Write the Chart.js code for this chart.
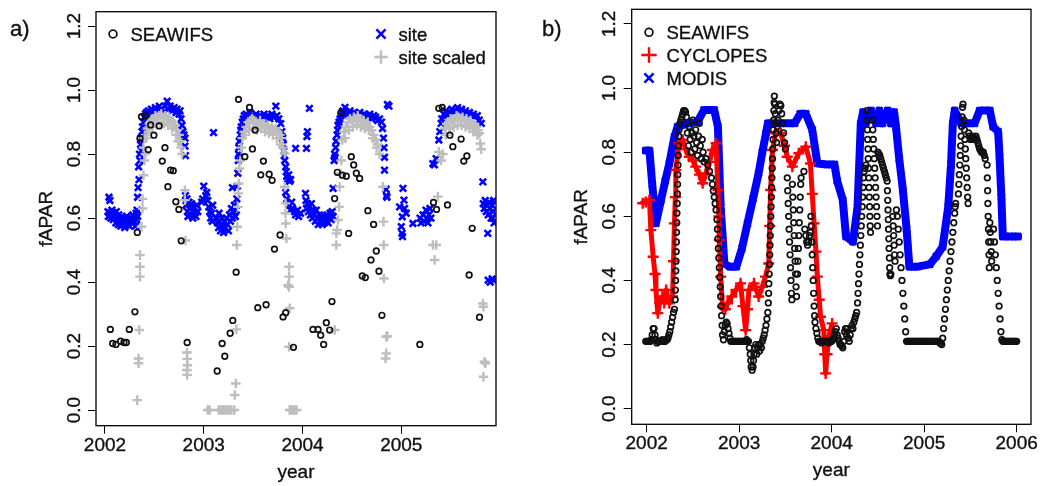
<!DOCTYPE html>
<html>
<head>
<meta charset="utf-8">
<script src="https://cdn.jsdelivr.net/npm/chart.js@4.4.0/dist/chart.umd.min.js"></script>
<style>
  body { margin: 0; background: #fff; width: 1041px; height: 486px; overflow: hidden; position: relative; }
  canvas { position: absolute; top: 0; }
  #chartA { left: 0; }
  #chartB { left: 520px; }
</style>
</head>
<body>
<canvas id="chartA" width="520" height="486"></canvas>
<canvas id="chartB" width="521" height="486"></canvas>
<script>
// axis ticks
const yTicks = [0, 0.2, 0.4, 0.6, 0.8, 1.0, 1.2];
const yTickLabels = ["0.0", "0.2", "0.4", "0.6", "0.8", "1.0", "1.2"];
const xTicksA = [2002, 2003, 2004, 2005];
const xTicksB = [2002, 2003, 2004, 2005, 2006];

// panel a) : [year, fAPAR]
const seawifsA = [
  [2002.054,0.252],[2002.078,0.208],[2002.111,0.205],[2002.158,0.215],[2002.192,0.211],[2002.216,0.211],
  [2002.246,0.252],[2002.303,0.307],[2002.327,0.555],[2002.354,0.849],[2002.37,0.917],[2002.411,0.919],
  [2002.438,0.814],[2002.462,0.891],[2002.495,0.859],[2002.549,0.888],[2002.580,0.778],[2002.607,0.820],
  [2002.637,0.698],[2002.664,0.750],[2002.691,0.748],[2002.718,0.651],[2002.748,0.627],[2002.772,0.529],
  [2002.832,0.211],[2003.136,0.122],[2003.186,0.208],[2003.213,0.168],[2003.267,0.240],[2003.294,0.280],
  [2003.328,0.431],[2003.352,0.971],[2003.416,0.792],[2003.463,0.946],[2003.493,0.816],[2003.520,0.875],
  [2003.547,0.320],[2003.577,0.735],[2003.604,0.778],[2003.631,0.329],[2003.662,0.737],[2003.692,0.718],
  [2003.716,0.503],[2003.773,0.547],[2003.803,0.291],[2003.830,0.304],[2003.908,0.196],[2004.106,0.252],
  [2004.157,0.252],[2004.184,0.234],[2004.214,0.205],[2004.241,0.273],[2004.275,0.250],[2004.298,0.339],
  [2004.325,0.661],[2004.352,0.743],[2004.389,0.929],[2004.403,0.734],[2004.443,0.731],[2004.467,0.552],
  [2004.494,0.792],[2004.518,0.766],[2004.545,0.740],[2004.578,0.724],[2004.605,0.419],[2004.636,0.414],
  [2004.662,0.623],[2004.693,0.469],[2004.720,0.580],[2004.747,0.497],[2004.774,0.434],[2004.804,0.296],
  [2005.188,0.205],[2005.326,0.649],[2005.357,0.627],[2005.380,0.943],[2005.414,0.946],[2005.468,0.641],
  [2005.492,0.859],[2005.522,0.823],[2005.606,0.847],[2005.633,0.778],[2005.664,0.794],[2005.687,0.422],
  [2005.718,0.568],[2005.792,0.290]
];

const siteA = [
  [2002.03,0.62],[2002.035,0.605],[2002.04,0.665],[2002.05,0.655],[2002.05,0.615],[2002.06,0.6],[2002.07,0.625],
  [2002.08,0.61],[2002.085,0.595],[2002.095,0.615],[2002.10,0.60],[2002.11,0.585],[2002.115,0.62],[2002.125,0.6],
  [2002.135,0.58],[2002.14,0.61],[2002.15,0.595],[2002.16,0.575],[2002.17,0.605],[2002.18,0.585],[2002.19,0.6],
  [2002.20,0.57],[2002.21,0.59],[2002.22,0.605],[2002.23,0.58],[2002.24,0.595],[2002.25,0.575],[2002.26,0.6],
  [2002.27,0.585],[2002.28,0.61],[2002.29,0.59],[2002.30,0.6],[2002.31,0.575],[2002.315,0.615],[2002.32,0.595],
  [2002.325,0.625],[2002.33,0.605],
  [2002.33,0.665],[2002.335,0.695],[2002.34,0.76],[2002.345,0.72],[2002.35,0.80],[2002.355,0.78],[2002.36,0.83],
  [2002.365,0.85],[2002.37,0.81],[2002.375,0.87],[2002.38,0.885],[2002.39,0.9],[2002.395,0.875],[2002.40,0.915],
  [2002.41,0.925],
  [2002.42,0.93],[2002.44,0.935],[2002.45,0.92],[2002.47,0.94],[2002.49,0.93],[2002.51,0.945],[2002.53,0.935],
  [2002.55,0.95],[2002.57,0.94],[2002.59,0.93],[2002.61,0.95],[2002.63,0.965],[2002.64,0.94],[2002.66,0.95],
  [2002.68,0.935],[2002.70,0.945],[2002.72,0.93],[2002.73,0.94],[2002.75,0.925],[2002.76,0.935],
  [2002.77,0.91],[2002.78,0.89],[2002.79,0.87],[2002.80,0.86],[2002.81,0.85],[2002.81,0.825],[2002.815,0.795],
  [2002.815,0.67],[2002.82,0.64],[2002.83,0.66],[2002.835,0.62],[2002.84,0.605],[2002.85,0.65],[2002.86,0.63],
  [2002.865,0.61],[2002.875,0.645],[2002.885,0.62],[2002.89,0.6],[2002.90,0.635],[2002.91,0.615],[2002.92,0.605],
  [2002.93,0.64],[2002.94,0.62],
  [2002.98,0.65],[2002.99,0.66],[2003.00,0.70],[2003.02,0.67],[2003.03,0.68],[2003.04,0.655],[2003.05,0.635],
  [2003.06,0.62],[2003.07,0.60],[2003.08,0.615],[2003.085,0.59],[2003.09,0.64],[2003.099,0.867],
  [2003.13,0.6],[2003.14,0.585],[2003.15,0.57],[2003.155,0.615],[2003.16,0.59],[2003.17,0.56],[2003.18,0.6],
  [2003.19,0.575],[2003.20,0.555],[2003.21,0.59],[2003.22,0.57],[2003.23,0.6],[2003.24,0.58],[2003.25,0.56],
  [2003.26,0.61],[2003.27,0.59],[2003.28,0.63],[2003.29,0.6],[2003.30,0.62],[2003.31,0.64],[2003.32,0.605],
  [2003.33,0.625],[2003.29,0.695],
  [2003.335,0.66],[2003.34,0.70],[2003.345,0.74],[2003.35,0.78],[2003.352,0.80],[2003.355,0.82],[2003.36,0.84],
  [2003.365,0.79],[2003.37,0.86],[2003.375,0.875],[2003.38,0.885],[2003.39,0.90],[2003.40,0.91],[2003.41,0.92],
  [2003.43,0.925],[2003.45,0.915],[2003.47,0.93],[2003.49,0.92],[2003.51,0.91],[2003.53,0.925],[2003.55,0.915],
  [2003.57,0.92],[2003.59,0.91],[2003.61,0.925],[2003.63,0.915],[2003.65,0.92],[2003.67,0.91],[2003.69,0.925],
  [2003.71,0.915],[2003.73,0.95],[2003.74,0.92],[2003.76,0.91],[2003.78,0.895],[2003.79,0.87],
  [2003.80,0.85],[2003.805,0.83],[2003.81,0.81],[2003.815,0.795],[2003.82,0.78],[2003.83,0.76],[2003.835,0.745],
  [2003.84,0.73],[2003.85,0.72],[2003.86,0.735],[2003.87,0.715],[2003.88,0.72],[2003.83,0.68],[2003.84,0.66],
  [2003.87,0.64],[2003.88,0.625],[2003.89,0.65],[2003.90,0.63],[2003.92,0.62],[2003.93,0.61],[2003.95,0.625],
  [2003.96,0.605],[2003.98,0.615],[2003.93,0.818],[2004.04,0.818],[2004.05,0.87],[2004.045,0.855],[2004.07,0.943],
  [2004.03,0.677],[2004.035,0.655],
  [2004.04,0.63],[2004.05,0.645],[2004.06,0.62],[2004.07,0.635],[2004.08,0.61],[2004.09,0.645],[2004.10,0.60],
  [2004.11,0.625],[2004.12,0.61],[2004.13,0.59],[2004.14,0.625],[2004.15,0.60],[2004.16,0.58],[2004.17,0.61],
  [2004.18,0.59],[2004.19,0.605],[2004.20,0.58],[2004.21,0.60],[2004.22,0.585],[2004.23,0.605],[2004.24,0.59],
  [2004.25,0.61],[2004.26,0.585],[2004.27,0.60],[2004.28,0.615],[2004.29,0.595],[2004.30,0.62],[2004.31,0.605],
  [2004.31,0.693],
  [2004.32,0.78],[2004.325,0.80],[2004.33,0.79],[2004.335,0.82],[2004.34,0.84],[2004.35,0.86],[2004.355,0.875],
  [2004.36,0.89],[2004.37,0.90],[2004.38,0.91],[2004.39,0.92],[2004.40,0.93],[2004.41,0.935],
  [2004.43,0.946],[2004.44,0.93],[2004.46,0.925],[2004.48,0.935],[2004.50,0.92],[2004.52,0.93],[2004.54,0.925],
  [2004.56,0.92],[2004.58,0.93],[2004.60,0.915],[2004.62,0.925],[2004.64,0.92],[2004.66,0.915],[2004.68,0.925],
  [2004.70,0.91],[2004.72,0.92],[2004.74,0.915],[2004.76,0.905],[2004.78,0.91],[2004.80,0.90],[2004.81,0.88],
  [2004.82,0.85],[2004.825,0.82],[2004.83,0.79],[2004.83,0.75],
  [2004.86,0.955],[2004.875,0.95],[2004.845,0.69],[2004.85,0.67],[2004.855,0.665],
  [2004.983,0.635],[2005.00,0.573],[2005.008,0.552],[2005.01,0.604],[2005.012,0.542],[2005.017,0.693],
  [2005.027,0.656],[2005.033,0.63],[2005.05,0.615],[2005.118,0.583],
  [2005.19,0.60],[2005.20,0.585],[2005.22,0.61],[2005.23,0.59],[2005.25,0.625],[2005.26,0.60],[2005.27,0.585],
  [2005.28,0.61],[2005.29,0.63],[2005.30,0.60],
  [2005.32,0.77],[2005.335,0.766],[2005.353,0.786],[2005.38,0.844],[2005.39,0.87],[2005.404,0.896],
  [2005.41,0.91],[2005.43,0.925],[2005.45,0.935],[2005.47,0.92],[2005.49,0.93],[2005.51,0.94],[2005.53,0.925],
  [2005.55,0.935],[2005.57,0.945],[2005.59,0.93],[2005.61,0.94],[2005.63,0.925],[2005.65,0.935],[2005.67,0.925],
  [2005.69,0.93],[2005.71,0.92],[2005.73,0.925],[2005.75,0.915],[2005.77,0.92],
  [2005.79,0.906],[2005.81,0.896],[2005.826,0.713],
  [2005.83,0.645],[2005.84,0.63],[2005.85,0.655],[2005.86,0.62],[2005.87,0.64],[2005.88,0.61],[2005.89,0.65],
  [2005.90,0.63],[2005.91,0.60],[2005.92,0.64],[2005.93,0.62],[2005.94,0.585],[2005.935,0.655],[2005.925,0.60],
  [2005.876,0.552],[2005.88,0.406],[2005.90,0.40],[2005.92,0.41],[2005.935,0.405]
];

const siteScaledA = [
  [2002.327,0.031],[2002.34,0.161],[2002.34,0.146],[2002.347,0.25],[2002.354,0.484],[2002.354,0.448],
  [2002.354,0.417],[2002.37,0.573],[2002.38,0.63],[2002.38,0.66],[2002.39,0.734],[2002.40,0.78],[2002.41,0.80],
  [2002.39,0.82],[2002.40,0.85],
  [2002.42,0.85],[2002.43,0.88],[2002.45,0.895],[2002.47,0.905],[2002.49,0.91],[2002.51,0.92],[2002.53,0.915],
  [2002.55,0.92],[2002.57,0.925],[2002.59,0.915],[2002.61,0.92],[2002.63,0.91],[2002.65,0.915],[2002.67,0.905],
  [2002.69,0.90],[2002.71,0.89],[2002.73,0.875],[2002.75,0.86],[2002.76,0.84],[2002.77,0.82],
  [2002.44,0.87],[2002.48,0.885],[2002.52,0.895],[2002.56,0.90],[2002.60,0.895],[2002.64,0.89],[2002.68,0.88],
  [2002.72,0.86],[2002.74,0.84],[2002.78,0.80],
  [2002.809,0.687],[2002.809,0.656],[2002.815,0.53],
  [2002.83,0.18],[2002.832,0.16],[2002.834,0.14],[2002.83,0.125],[2002.832,0.11],
  [2003.04,0.0],[2003.06,0.0],[2003.15,0.0],[2003.17,0.0],[2003.19,0.0],[2003.20,0.0],[2003.22,0.0],
  [2003.24,0.0],[2003.26,0.0],[2003.28,0.0],[2003.31,0.0],
  [2003.314,0.047],[2003.325,0.083],[2003.33,0.252],[2003.335,0.516],[2003.34,0.573],[2003.345,0.635],
  [2003.35,0.677],[2003.355,0.708],[2003.36,0.755],[2003.37,0.78],[2003.38,0.82],[2003.39,0.85],
  [2003.41,0.87],[2003.43,0.885],[2003.45,0.90],[2003.47,0.905],[2003.49,0.91],[2003.51,0.905],[2003.53,0.90],
  [2003.55,0.895],[2003.57,0.905],[2003.59,0.89],[2003.61,0.895],[2003.63,0.885],[2003.65,0.89],[2003.67,0.88],
  [2003.69,0.885],[2003.71,0.875],[2003.73,0.88],[2003.75,0.87],[2003.77,0.86],[2003.79,0.85],
  [2003.42,0.86],[2003.46,0.875],[2003.50,0.88],[2003.54,0.875],[2003.58,0.88],[2003.62,0.87],[2003.66,0.865],
  [2003.70,0.86],[2003.74,0.85],[2003.78,0.83],[2003.80,0.82],
  [2003.82,0.802],[2003.82,0.698],[2003.827,0.646],[2003.827,0.615],[2003.83,0.583],[2003.837,0.536],
  [2003.864,0.448],[2003.864,0.417],[2003.853,0.39],[2003.864,0.385],[2003.87,0.318],[2003.864,0.198],
  [2003.87,0.0],[2003.88,0.0],[2003.90,0.0],[2003.92,0.0],[2003.94,0.0],
  [2004.326,0.25],[2004.342,0.516],[2004.342,0.552],[2004.35,0.5625],[2004.36,0.594],[2004.37,0.635],
  [2004.376,0.698],[2004.383,0.74],[2004.393,0.78],[2004.403,0.844],
  [2004.42,0.87],[2004.44,0.885],[2004.46,0.90],[2004.48,0.91],[2004.50,0.905],[2004.52,0.915],[2004.54,0.91],
  [2004.56,0.92],[2004.58,0.91],[2004.60,0.90],[2004.62,0.905],[2004.64,0.895],[2004.66,0.90],[2004.68,0.885],
  [2004.70,0.875],[2004.72,0.86],[2004.74,0.845],[2004.76,0.83],
  [2004.43,0.85],[2004.47,0.875],[2004.51,0.885],[2004.55,0.89],[2004.59,0.885],[2004.63,0.88],[2004.67,0.875],
  [2004.71,0.85],[2004.75,0.82],[2004.78,0.80],
  [2004.814,0.698],[2004.82,0.589],[2004.822,0.516],[2004.824,0.411],[2004.848,0.229],[2004.858,0.231],
  [2004.848,0.177],[2004.841,0.161],
  [2005.32,0.516],[2005.354,0.516],[2005.337,0.469],[2005.37,0.667],[2005.38,0.807],[2005.404,0.78],[2005.42,0.80],
  [2005.44,0.88],[2005.46,0.895],[2005.48,0.90],[2005.50,0.91],[2005.52,0.905],[2005.54,0.91],[2005.56,0.92],
  [2005.58,0.915],[2005.60,0.91],[2005.62,0.915],[2005.64,0.905],[2005.66,0.91],[2005.68,0.90],[2005.70,0.905],
  [2005.72,0.895],[2005.74,0.89],[2005.76,0.885],[2005.78,0.875],
  [2005.45,0.86],[2005.49,0.88],[2005.53,0.885],[2005.57,0.89],[2005.61,0.89],[2005.65,0.885],[2005.69,0.88],
  [2005.73,0.87],[2005.77,0.86],
  [2005.79,0.865],[2005.80,0.833],[2005.81,0.815],[2005.826,0.333],[2005.832,0.323],[2005.842,0.151],
  [2005.852,0.146],[2005.832,0.104]
];

// panel b) : [year, fAPAR]
const seawifsB = [
  [2001.99,0.21],[2002.00,0.21],[2002.01,0.21],[2002.02,0.21],[2002.03,0.21],[2002.04,0.21],[2002.05,0.215],
  [2002.06,0.23],[2002.07,0.25],[2002.08,0.25],[2002.09,0.23],[2002.10,0.215],
  [2002.11,0.205],[2002.12,0.21],[2002.13,0.21],[2002.14,0.21],[2002.15,0.21],[2002.16,0.21],[2002.17,0.215],
  [2002.18,0.21],[2002.19,0.21],[2002.20,0.21],[2002.21,0.215],[2002.22,0.215],
  [2002.23,0.22],[2002.24,0.23],[2002.25,0.24],[2002.26,0.255],[2002.27,0.27],[2002.28,0.285],[2002.29,0.30],
  [2002.30,0.31],
  [2002.308,0.34],[2002.31,0.37],[2002.312,0.40],[2002.315,0.43],[2002.317,0.46],[2002.319,0.49],[2002.321,0.52],
  [2002.323,0.55],[2002.325,0.58],[2002.327,0.61],[2002.33,0.64],[2002.332,0.67],[2002.334,0.70],[2002.336,0.73],
  [2002.339,0.76],[2002.341,0.79],[2002.344,0.82],[2002.347,0.85],
  [2002.35,0.87],[2002.36,0.89],[2002.37,0.90],[2002.38,0.91],[2002.39,0.92],[2002.40,0.93],[2002.41,0.93],
  [2002.42,0.925],[2002.43,0.91],
  [2002.44,0.86],[2002.45,0.82],[2002.46,0.88],[2002.47,0.84],[2002.48,0.80],[2002.49,0.86],[2002.50,0.90],
  [2002.51,0.85],[2002.52,0.81],[2002.53,0.87],[2002.54,0.83],[2002.55,0.79],[2002.56,0.85],[2002.57,0.89],
  [2002.58,0.82],[2002.59,0.78],[2002.60,0.84],[2002.61,0.80],[2002.62,0.77],
  [2002.64,0.78],[2002.66,0.76],[2002.68,0.74],[2002.70,0.72],[2002.71,0.70],[2002.72,0.68],[2002.73,0.66],
  [2002.74,0.64],[2002.75,0.62],[2002.76,0.59],[2002.765,0.56],[2002.77,0.53],[2002.775,0.50],[2002.78,0.47],
  [2002.785,0.44],[2002.79,0.41],[2002.795,0.38],[2002.80,0.35],[2002.805,0.32],[2002.81,0.29],[2002.815,0.26],
  [2002.82,0.23],[2002.83,0.215],
  [2002.84,0.24],[2002.85,0.26],[2002.86,0.27],[2002.87,0.265],[2002.88,0.25],[2002.89,0.235],[2002.90,0.22],
  [2002.91,0.21],[2002.92,0.21],[2002.93,0.21],[2002.94,0.21],[2002.95,0.21],[2002.96,0.21],[2002.97,0.21],
  [2002.98,0.21],[2002.99,0.21],[2003.00,0.21],[2003.01,0.21],[2003.02,0.21],[2003.03,0.21],[2003.04,0.21],
  [2003.05,0.21],[2003.06,0.21],[2003.07,0.21],[2003.08,0.215],[2003.09,0.21],[2003.10,0.21],
  [2003.11,0.19],[2003.12,0.17],[2003.125,0.15],[2003.13,0.13],[2003.14,0.12],[2003.15,0.13],[2003.155,0.15],
  [2003.16,0.17],[2003.17,0.19],[2003.18,0.20],[2003.19,0.17],[2003.20,0.19],[2003.21,0.20],
  [2003.22,0.18],[2003.23,0.20],[2003.24,0.19],[2003.25,0.21],[2003.26,0.22],[2003.27,0.23],[2003.28,0.245],
  [2003.29,0.26],[2003.30,0.28],[2003.31,0.30],
  [2003.315,0.33],[2003.318,0.36],[2003.321,0.39],[2003.324,0.42],[2003.327,0.45],[2003.33,0.48],[2003.333,0.51],
  [2003.336,0.54],[2003.339,0.57],[2003.342,0.60],[2003.345,0.63],[2003.348,0.66],[2003.351,0.69],[2003.354,0.72],
  [2003.357,0.75],[2003.36,0.78],[2003.363,0.81],[2003.366,0.84],[2003.369,0.87],[2003.372,0.90],[2003.375,0.93],
  [2003.378,0.955],[2003.38,0.975],
  [2003.385,0.95],[2003.39,0.92],[2003.395,0.89],[2003.40,0.86],[2003.405,0.83],
  [2003.41,0.88],[2003.42,0.90],[2003.43,0.93],[2003.44,0.95],[2003.45,0.945],[2003.46,0.92],[2003.47,0.89],
  [2003.48,0.86],[2003.49,0.83],[2003.50,0.81],
  [2003.52,0.72],[2003.525,0.68],[2003.53,0.64],[2003.535,0.60],[2003.54,0.56],[2003.545,0.52],[2003.55,0.48],
  [2003.555,0.44],[2003.56,0.40],[2003.565,0.36],[2003.57,0.34],
  [2003.575,0.70],[2003.58,0.66],[2003.585,0.62],[2003.59,0.58],[2003.595,0.54],[2003.60,0.50],[2003.605,0.46],
  [2003.61,0.42],[2003.615,0.38],[2003.62,0.35],
  [2003.63,0.42],[2003.635,0.46],[2003.64,0.50],[2003.645,0.54],[2003.65,0.58],[2003.655,0.62],[2003.66,0.66],
  [2003.665,0.70],[2003.67,0.72],
  [2003.70,0.74],[2003.71,0.56],[2003.72,0.54],[2003.73,0.52],[2003.74,0.51],[2003.75,0.52],[2003.76,0.54],
  [2003.77,0.55],
  [2003.775,0.60],[2003.78,0.57],[2003.785,0.52],[2003.79,0.48],[2003.795,0.44],[2003.80,0.40],[2003.805,0.36],
  [2003.81,0.32],[2003.815,0.29],[2003.82,0.27],
  [2003.83,0.25],[2003.84,0.235],[2003.85,0.22],[2003.86,0.21],[2003.87,0.21],[2003.88,0.21],[2003.89,0.205],
  [2003.90,0.21],[2003.91,0.21],[2003.92,0.21],[2003.93,0.21],[2003.94,0.21],[2003.95,0.21],[2003.96,0.21],
  [2003.97,0.205],[2003.98,0.21],[2003.99,0.21],[2004.00,0.21],[2004.01,0.215],[2004.02,0.22],[2004.03,0.23],
  [2004.04,0.24],[2004.05,0.25],[2004.06,0.23],[2004.07,0.22],[2004.08,0.21],[2004.09,0.20],[2004.10,0.20],
  [2004.11,0.195],[2004.12,0.19],[2004.13,0.21],[2004.14,0.24],[2004.15,0.25],[2004.16,0.23],
  [2004.17,0.25],[2004.18,0.22],[2004.19,0.21],[2004.20,0.23],[2004.21,0.25],[2004.22,0.26],[2004.23,0.25],
  [2004.24,0.27],[2004.25,0.28],[2004.26,0.29],
  [2004.27,0.30],[2004.28,0.33],[2004.285,0.36],[2004.29,0.39],[2004.295,0.42],[2004.30,0.45],[2004.305,0.48],
  [2004.31,0.51],[2004.315,0.54],[2004.32,0.57],[2004.325,0.60],[2004.33,0.63],[2004.335,0.66],[2004.34,0.69],
  [2004.345,0.72],[2004.35,0.74],[2004.36,0.75],[2004.37,0.76],
  [2004.38,0.93],[2004.383,0.90],[2004.386,0.87],[2004.389,0.84],[2004.392,0.81],[2004.395,0.78],[2004.398,0.75],
  [2004.401,0.72],[2004.404,0.69],[2004.407,0.66],[2004.41,0.63],[2004.413,0.60],[2004.416,0.57],[2004.42,0.55],
  [2004.44,0.90],[2004.445,0.87],[2004.45,0.84],[2004.455,0.81],[2004.46,0.78],[2004.465,0.75],[2004.47,0.72],
  [2004.475,0.69],[2004.48,0.66],[2004.485,0.63],[2004.49,0.60],[2004.495,0.57],
  [2004.50,0.80],[2004.51,0.795],[2004.52,0.79],[2004.53,0.78],[2004.54,0.77],[2004.55,0.76],[2004.56,0.75],
  [2004.57,0.74],[2004.58,0.73],[2004.59,0.72],[2004.60,0.71],
  [2004.603,0.68],[2004.606,0.65],[2004.609,0.62],[2004.612,0.59],[2004.615,0.56],[2004.618,0.53],[2004.621,0.50],
  [2004.624,0.47],[2004.627,0.44],[2004.63,0.42],[2004.635,0.415],[2004.64,0.42],
  [2004.66,0.60],[2004.665,0.57],[2004.67,0.54],[2004.675,0.51],[2004.68,0.48],[2004.685,0.46],
  [2004.70,0.62],[2004.71,0.60],[2004.72,0.56],[2004.73,0.52],[2004.74,0.48],[2004.75,0.44],[2004.76,0.40],
  [2004.77,0.36],[2004.78,0.32],[2004.79,0.28],[2004.80,0.24],[2004.81,0.21],
  [2004.82,0.21],[2004.83,0.21],[2004.84,0.21],[2004.85,0.21],[2004.86,0.21],[2004.87,0.21],[2004.88,0.21],
  [2004.89,0.21],[2004.90,0.21],[2004.91,0.21],[2004.92,0.21],[2004.93,0.21],[2004.94,0.21],[2004.95,0.21],
  [2004.96,0.21],[2004.97,0.21],[2004.98,0.21],[2004.99,0.21],[2005.00,0.21],[2005.01,0.21],[2005.02,0.21],
  [2005.03,0.21],[2005.04,0.21],[2005.05,0.21],[2005.06,0.21],[2005.07,0.21],[2005.08,0.21],[2005.09,0.21],
  [2005.10,0.21],[2005.11,0.21],[2005.12,0.21],[2005.13,0.21],[2005.14,0.21],[2005.15,0.21],[2005.16,0.21],
  [2005.17,0.205],[2005.18,0.205],[2005.19,0.20],
  [2005.20,0.22],[2005.21,0.25],[2005.22,0.28],[2005.23,0.31],[2005.24,0.34],[2005.25,0.37],[2005.26,0.40],
  [2005.27,0.43],[2005.28,0.46],[2005.29,0.49],[2005.30,0.52],[2005.31,0.55],[2005.32,0.58],[2005.33,0.61],
  [2005.335,0.63],[2005.34,0.64],
  [2005.37,0.67],[2005.375,0.70],[2005.38,0.73],[2005.385,0.76],[2005.39,0.79],[2005.395,0.82],[2005.40,0.85],
  [2005.405,0.88],[2005.41,0.91],[2005.415,0.94],[2005.42,0.95],
  [2005.43,0.90],[2005.435,0.87],[2005.44,0.84],[2005.445,0.81],[2005.45,0.78],[2005.455,0.75],[2005.46,0.72],
  [2005.465,0.69],[2005.47,0.66],[2005.475,0.64],
  [2005.48,0.86],[2005.49,0.85],[2005.50,0.84],[2005.51,0.845],[2005.52,0.85],[2005.53,0.845],[2005.54,0.84],
  [2005.55,0.845],[2005.56,0.85],[2005.57,0.84],[2005.58,0.83],[2005.59,0.82],[2005.60,0.81],[2005.61,0.805],
  [2005.62,0.80],[2005.63,0.80],[2005.64,0.80],[2005.65,0.79],[2005.66,0.78],
  [2005.68,0.76],[2005.683,0.72],[2005.686,0.68],[2005.689,0.64],[2005.692,0.60],[2005.695,0.56],[2005.698,0.52],
  [2005.701,0.48],[2005.704,0.44],
  [2005.71,0.58],[2005.715,0.55],[2005.72,0.52],[2005.725,0.49],[2005.73,0.46],
  [2005.75,0.56],[2005.76,0.52],[2005.77,0.48],[2005.78,0.44],[2005.79,0.40],[2005.80,0.36],[2005.81,0.32],
  [2005.82,0.28],[2005.83,0.24],[2005.84,0.215],
  [2005.85,0.21],[2005.86,0.21],[2005.87,0.21],[2005.88,0.21],[2005.89,0.21],[2005.90,0.21],[2005.91,0.21],
  [2005.92,0.21],[2005.93,0.21],[2005.94,0.21],[2005.95,0.21],[2005.96,0.21],[2005.97,0.21],[2005.98,0.21],
  [2005.99,0.21],[2006.00,0.21]
];

const cyclopesB = [
  [2001.957,0.641],[2001.99,0.645],[2002.03,0.651],[2002.045,0.557],[2002.07,0.474],[2002.09,0.42],[2002.10,0.37],
  [2002.12,0.298],[2002.14,0.33],[2002.17,0.35],[2002.19,0.33],[2002.21,0.37],[2002.245,0.329],[2002.28,0.35],
  [2002.29,0.46],[2002.30,0.578],[2002.31,0.66],[2002.315,0.745],[2002.35,0.828],[2002.39,0.838],[2002.42,0.81],
  [2002.46,0.786],[2002.50,0.775],[2002.53,0.755],[2002.57,0.73],[2002.605,0.703],[2002.64,0.734],[2002.68,0.77],
  [2002.71,0.807],[2002.75,0.828],[2002.77,0.682],[2002.78,0.60],[2002.785,0.526],[2002.80,0.412],[2002.82,0.318],
  [2002.85,0.31],[2002.875,0.329],[2002.92,0.35],[2002.965,0.37],[2003.015,0.391],[2003.04,0.32],[2003.07,0.245],
  [2003.09,0.31],[2003.105,0.37],[2003.16,0.391],[2003.21,0.35],[2003.25,0.38],[2003.285,0.412],[2003.32,0.453],
  [2003.33,0.57],[2003.34,0.682],[2003.36,0.807],[2003.395,0.859],[2003.45,0.859],[2003.49,0.82],[2003.52,0.786],
  [2003.575,0.755],[2003.645,0.797],[2003.72,0.817],[2003.77,0.765],[2003.79,0.67],[2003.81,0.578],[2003.83,0.49],
  [2003.845,0.412],[2003.865,0.34],[2003.88,0.287],[2003.915,0.245],[2003.925,0.17],[2003.935,0.11],[2003.95,0.17],
  [2003.97,0.225],[2004.005,0.266]
];

const modisB = [
  [2001.99,0.805],[2002.03,0.805],[2002.06,0.70],[2002.10,0.578],[2002.155,0.651],[2002.20,0.71],[2002.245,0.765],
  [2002.30,0.848],[2002.335,0.88],[2002.45,0.89],[2002.55,0.895],[2002.62,0.932],[2002.73,0.932],[2002.77,0.88],
  [2002.785,0.75],[2002.80,0.63],[2002.82,0.54],[2002.84,0.453],[2002.90,0.443],[2002.97,0.443],[2003.03,0.50],
  [2003.09,0.578],[2003.15,0.655],[2003.21,0.734],[2003.25,0.80],[2003.29,0.859],[2003.31,0.89],[2003.45,0.89],
  [2003.60,0.89],[2003.66,0.92],[2003.72,0.92],[2003.79,0.87],[2003.845,0.765],[2003.95,0.762],[2004.03,0.762],
  [2004.06,0.71],[2004.12,0.651],[2004.155,0.537],[2004.23,0.521],[2004.28,0.63],[2004.315,0.89],[2004.34,0.925],
  [2004.37,0.89],[2004.425,0.93],[2004.48,0.89],[2004.515,0.93],[2004.55,0.89],[2004.605,0.93],[2004.64,0.89],
  [2004.675,0.925],[2004.695,0.88],[2004.73,0.78],[2004.77,0.682],[2004.81,0.56],[2004.84,0.443],[2004.93,0.443],
  [2005.06,0.45],[2005.13,0.475],[2005.20,0.505],[2005.26,0.63],[2005.29,0.76],[2005.31,0.89],[2005.33,0.93],
  [2005.40,0.89],[2005.545,0.89],[2005.60,0.93],[2005.71,0.93],[2005.745,0.88],[2005.80,0.864],[2005.815,0.786],
  [2005.835,0.66],[2005.85,0.537],[2005.93,0.537],[2006.015,0.537]
];

const pts = (arr) => arr.map(([x, y]) => ({ x, y }));
const FONT = "'Liberation Sans', Arial, Helvetica, sans-serif";

function drawSymbol(ctx, style, r, lw, color, x, y) {
  ctx.save();
  ctx.strokeStyle = color;
  ctx.lineWidth = lw;
  ctx.beginPath();
  if (style === "circle") {
    ctx.arc(x, y, r, 0, Math.PI * 2);
  } else if (style === "cross") {
    ctx.moveTo(x - r, y); ctx.lineTo(x + r, y);
    ctx.moveTo(x, y - r); ctx.lineTo(x, y + r);
  } else {
    const d = r * Math.SQRT1_2;
    ctx.moveTo(x - d, y - d); ctx.lineTo(x + d, y + d);
    ctx.moveTo(x - d, y + d); ctx.lineTo(x + d, y - d);
  }
  ctx.stroke();
  ctx.restore();
}

// slightly heavier text, like the upscaled R output
function text(ctx, s, x, y) {
  ctx.fillText(s, x, y);
  ctx.strokeText(s, x, y);
}

// box, tick labels, axis titles, legend and panel label, R style
const rFrame = {
  id: "rFrame",
  beforeDatasetsDraw(chart) {
    const { ctx, chartArea: a } = chart;
    ctx.save();
    ctx.strokeStyle = "#000";
    ctx.lineWidth = 1.3;
    ctx.strokeRect(a.left, a.top, a.right - a.left, a.bottom - a.top);
    ctx.restore();
  },
  afterDraw(chart, args, opts) {
    const { ctx, chartArea: a, scales } = chart;
    ctx.save();
    ctx.fillStyle = "#111";
    ctx.strokeStyle = "#111";
    ctx.lineWidth = 0.35;
    ctx.font = "19px " + FONT;
    ctx.textAlign = "center";
    ctx.textBaseline = "alphabetic";
    scales.x.ticks.forEach((t) => {
      text(ctx, String(t.value), scales.x.getPixelForValue(t.value), a.bottom + 25);
    });
    scales.y.ticks.forEach((t, i) => {
      ctx.save();
      ctx.translate(a.left - 16.5, scales.y.getPixelForValue(t.value));
      ctx.rotate(-Math.PI / 2);
      text(ctx, yTickLabels[i], 0, 0);
      ctx.restore();
    });
    text(ctx, "year", (a.left + a.right) / 2, a.bottom + 52);
    ctx.save();
    ctx.translate(a.left - 44.5, (a.top + a.bottom) / 2);
    ctx.rotate(-Math.PI / 2);
    text(ctx, "fAPAR", 0, 0);
    ctx.restore();

    ctx.font = "22px " + FONT;
    ctx.textAlign = "left";
    text(ctx, opts.panel, opts.panelX, 36);

    ctx.font = "18.5px " + FONT;
    opts.legend.forEach((it) => {
      const ds = chart.data.datasets[it.index];
      drawSymbol(ctx, ds.pointStyle, ds.pointRadius * 1.4, ds.pointBorderWidth, ds.pointBorderColor, it.x, it.y);
      text(ctx, ds.label, it.x + 17.5, it.y + 6.7);
    });
    ctx.restore();
  }
};

function makeOptions(c) {
  const grid = { drawOnChartArea: false, drawTicks: true, tickLength: 8, color: "#000", lineWidth: 1 };
  return {
    responsive: false,
    animation: false,
    events: [],
    devicePixelRatio: 1,
    layout: { padding: { left: 0, right: c.padRight, top: c.padTop, bottom: 0 } },
    plugins: {
      legend: { display: false },
      tooltip: { enabled: false },
      rFrame: { panel: c.panel, panelX: c.panelX, legend: c.legend }
    },
    scales: {
      x: {
        type: "linear", min: c.xMin, max: c.xMax,
        afterBuildTicks: (s) => { s.ticks = c.xTicks.map((v) => ({ value: v })); },
        afterFit: (s) => { s.height = c.xHeight; },
        ticks: { display: false },
        border: { display: false },
        grid: grid
      },
      y: {
        type: "linear", min: c.yMin, max: c.yMax,
        afterBuildTicks: (s) => { s.ticks = yTicks.map((v) => ({ value: v })); },
        afterFit: (s) => { s.width = c.yWidth; },
        ticks: { display: false },
        border: { display: false },
        grid: grid
      }
    }
  };
}

new Chart(document.getElementById("chartA"), {
  type: "scatter",
  data: {
    datasets: [
      { label: "SEAWIFS", data: pts(seawifsA), pointStyle: "circle", pointRadius: 2.8, pointBorderWidth: 1.7,
        pointBorderColor: "#111", pointBackgroundColor: "rgba(0,0,0,0)", order: 0 },
      { label: "site", data: pts(siteA), pointStyle: "crossRot", pointRadius: 4.6, pointBorderWidth: 2.6,
        pointBorderColor: "#0000ff", pointBackgroundColor: "#0000ff", order: 2 },
      { label: "site scaled", data: pts(siteScaledA), pointStyle: "cross", pointRadius: 4.8, pointBorderWidth: 2.4,
        pointBorderColor: "#bebebe", pointBackgroundColor: "#bebebe", order: 1 }
    ]
  },
  options: makeOptions({
    xMin: 2001.909, xMax: 2005.959, yMin: -0.049, yMax: 1.245, xTicks: xTicksA,
    padRight: 24, padTop: 11.7, xHeight: 60.3, yWidth: 96,
    panel: "a)", panelX: 10,
    legend: [{ index: 0, x: 113, y: 34 }, { index: 1, x: 381, y: 34 }, { index: 2, x: 381, y: 57 }]
  }),
  plugins: [rFrame]
});

new Chart(document.getElementById("chartB"), {
  type: "scatter",
  data: {
    datasets: [
      { label: "SEAWIFS", data: pts(seawifsB), pointStyle: "circle", pointRadius: 2.8, pointBorderWidth: 1.7,
        pointBorderColor: "#111", pointBackgroundColor: "rgba(0,0,0,0)", order: 0 },
      { label: "CYCLOPES", data: pts(cyclopesB), showLine: true, borderColor: "#ff0000", borderWidth: 5,
        borderJoinStyle: "round",
        pointStyle: "cross", pointRadius: 5.5, pointBorderWidth: 2.4, pointBorderColor: "#ff0000",
        pointBackgroundColor: "#ff0000", order: 1 },
      { label: "MODIS", data: pts(modisB), showLine: true, borderColor: "#0000ff", borderWidth: 8,
        borderJoinStyle: "round", borderCapStyle: "round",
        pointStyle: "crossRot", pointRadius: 4.6, pointBorderWidth: 2.6, pointBorderColor: "#0000ff",
        pointBackgroundColor: "#0000ff", order: 2 }
    ]
  },
  options: makeOptions({
    xMin: 2001.838, xMax: 2006.155, yMin: -0.0487, yMax: 1.2458, xTicks: xTicksB,
    padRight: 10, padTop: 9.3, xHeight: 61.7, yWidth: 111.7,
    panel: "b)", panelX: 22,
    legend: [{ index: 0, x: 129, y: 32.3 }, { index: 1, x: 129, y: 55 }, { index: 2, x: 129, y: 78 }]
  }),
  plugins: [rFrame]
});
</script>
</body>
</html>
